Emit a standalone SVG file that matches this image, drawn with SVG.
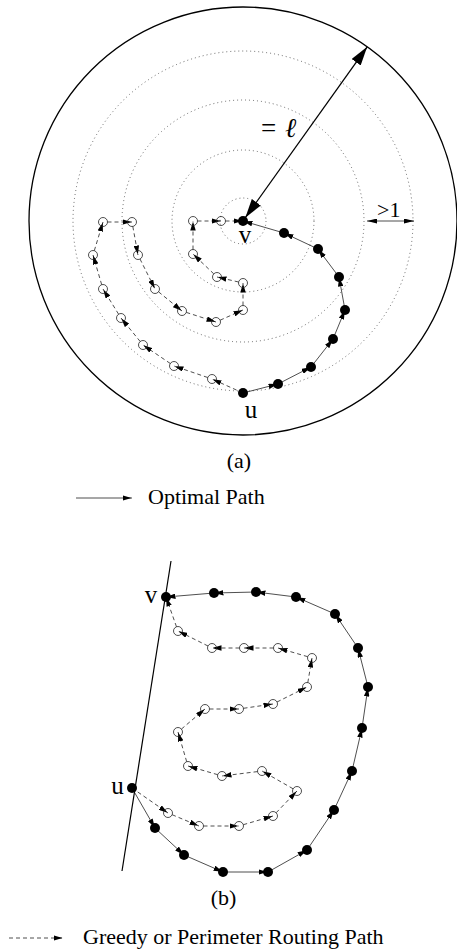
<svg xmlns="http://www.w3.org/2000/svg" width="457" height="952" viewBox="0 0 457 952">
<style>
text{font-family:"Liberation Serif","Times New Roman",serif;fill:#000}
.lbl{font-size:25px;text-anchor:middle}
.cap{font-size:22px}
.ring{fill:none;stroke:#444;stroke-width:0.8;stroke-dasharray:1 3}
.sol{stroke:#222;stroke-width:0.8;fill:none;marker-end:url(#ah)}
.dsh{stroke:#222;stroke-width:0.8;fill:none;stroke-dasharray:4 3;marker-end:url(#ah)}
.fn{fill:#000}
.on{fill:none;stroke:#222;stroke-width:0.8}
</style>
<defs>
<marker id="ah" viewBox="0 0 9 5.5" refX="9.5" refY="2.75" markerWidth="9" markerHeight="5.5" markerUnits="userSpaceOnUse" orient="auto"><path d="M0,0 L9,2.75 L0,5.5 z" fill="#000"/></marker>
<marker id="big" viewBox="0 0 19 11" refX="19" refY="5.5" markerWidth="19" markerHeight="11" markerUnits="userSpaceOnUse" orient="auto-start-reverse"><path d="M0,0 L19,5.5 L0,11 z" fill="#000"/></marker>
<marker id="dim" viewBox="0 0 10 5" refX="10" refY="2.5" markerWidth="10" markerHeight="5" markerUnits="userSpaceOnUse" orient="auto-start-reverse"><path d="M0,0 L10,2.5 L0,5 z" fill="#000"/></marker>
</defs>

<!-- (a) background circles -->
<g id="a-rings">
<circle cx="243" cy="221" r="214" fill="none" stroke="#000" stroke-width="1.3"/>
<circle class="ring" cx="243" cy="221" r="23"/>
<circle class="ring" cx="243" cy="221" r="71"/>
<circle class="ring" cx="243" cy="221" r="121"/>
<circle class="ring" cx="243" cy="221" r="170"/>
</g>

<g id="a-annotations">
<line x1="245.3" y1="217.7" x2="367.2" y2="46.8" stroke="#000" stroke-width="1.3" marker-start="url(#big)" marker-end="url(#big)"/>
<text font-size="27" y="137"><tspan x="261">=</tspan><tspan x="285" font-style="italic">ℓ</tspan></text>
<line x1="367" y1="221" x2="414" y2="221" stroke="#222" stroke-width="0.8" marker-start="url(#dim)" marker-end="url(#dim)"/>
<text font-size="22" x="377" y="217">&gt;1</text>
</g>

<g id="connectors">
<!-- (a) optimal path -->
<line class="sol" x1="243" y1="393" x2="278" y2="384"/>
<line class="sol" x1="278" y1="384" x2="311" y2="367"/>
<line class="sol" x1="311" y1="367" x2="333" y2="339"/>
<line class="sol" x1="333" y1="339" x2="345" y2="310"/>
<line class="sol" x1="345" y1="310" x2="339" y2="277"/>
<line class="sol" x1="339" y1="277" x2="318" y2="249"/>
<line class="sol" x1="318" y1="249" x2="284" y2="233"/>
<line class="sol" x1="284" y1="233" x2="243" y2="221"/>
<!-- (a) greedy / perimeter path -->
<line class="dsh" x1="243" y1="393" x2="212" y2="379"/>
<line class="dsh" x1="207.7" y1="377.5" x2="174" y2="366"/>
<line class="dsh" x1="170.3" y1="363.5" x2="143" y2="345"/>
<line class="dsh" x1="140.2" y1="341.5" x2="121" y2="318"/>
<line class="dsh" x1="118.6" y1="314.2" x2="103" y2="289"/>
<line class="dsh" x1="101.7" y1="284.7" x2="93" y2="255"/>
<line class="dsh" x1="94.3" y1="250.7" x2="103" y2="222"/>
<line class="dsh" x1="107.5" y1="222" x2="132" y2="222"/>
<line class="dsh" x1="132.8" y1="226.4" x2="138" y2="255"/>
<line class="dsh" x1="140" y1="259" x2="155" y2="289"/>
<line class="dsh" x1="158.5" y1="291.8" x2="182" y2="311"/>
<line class="dsh" x1="186.3" y1="312.4" x2="216" y2="322"/>
<line class="dsh" x1="220.1" y1="320.2" x2="243" y2="310"/>
<line class="dsh" x1="243" y1="305.5" x2="243" y2="283"/>
<line class="dsh" x1="238.6" y1="282" x2="217" y2="277"/>
<line class="dsh" x1="213.8" y1="273.9" x2="193" y2="254"/>
<line class="dsh" x1="193" y1="249.5" x2="193" y2="221"/>
<line class="dsh" x1="197.5" y1="221" x2="221" y2="221"/>
<line class="dsh" x1="225.5" y1="221" x2="243" y2="221"/>
<!-- (b) optimal path -->
<line class="sol" x1="132" y1="788" x2="155" y2="828"/>
<line class="sol" x1="155" y1="828" x2="184" y2="855"/>
<line class="sol" x1="184" y1="855" x2="223" y2="872"/>
<line class="sol" x1="223" y1="872" x2="268" y2="872"/>
<line class="sol" x1="268" y1="872" x2="307" y2="850"/>
<line class="sol" x1="307" y1="850" x2="334" y2="810"/>
<line class="sol" x1="334" y1="810" x2="352" y2="771"/>
<line class="sol" x1="352" y1="771" x2="362" y2="728"/>
<line class="sol" x1="362" y1="728" x2="368" y2="687"/>
<line class="sol" x1="368" y1="687" x2="358" y2="648"/>
<line class="sol" x1="358" y1="648" x2="335" y2="614"/>
<line class="sol" x1="335" y1="614" x2="296" y2="597"/>
<line class="sol" x1="296" y1="597" x2="256" y2="592"/>
<line class="sol" x1="256" y1="592" x2="214" y2="593"/>
<line class="sol" x1="214" y1="593" x2="166" y2="597"/>
<!-- (b) greedy / perimeter path -->
<line class="dsh" x1="132" y1="788" x2="168" y2="813"/>
<line class="dsh" x1="172.1" y1="814.7" x2="199" y2="826"/>
<line class="dsh" x1="203.5" y1="826" x2="239" y2="826"/>
<line class="dsh" x1="243.3" y1="824.7" x2="273" y2="816"/>
<line class="dsh" x1="276.1" y1="812.8" x2="297" y2="791"/>
<line class="dsh" x1="293.1" y1="788.8" x2="262" y2="771"/>
<line class="dsh" x1="257.5" y1="771.6" x2="222" y2="776"/>
<line class="dsh" x1="217.7" y1="774.7" x2="188" y2="766"/>
<line class="dsh" x1="186.7" y1="761.7" x2="178" y2="732"/>
<line class="dsh" x1="181.4" y1="729.1" x2="205" y2="709"/>
<line class="dsh" x1="209.5" y1="709" x2="239" y2="709"/>
<line class="dsh" x1="243.5" y1="708.3" x2="273" y2="704"/>
<line class="dsh" x1="277" y1="702" x2="307" y2="687"/>
<line class="dsh" x1="307.8" y1="682.6" x2="312" y2="658"/>
<line class="dsh" x1="307.7" y1="656.7" x2="278" y2="648"/>
<line class="dsh" x1="273.5" y1="648" x2="244" y2="648"/>
<line class="dsh" x1="239.5" y1="648" x2="212" y2="648"/>
<line class="dsh" x1="208" y1="646" x2="178" y2="631"/>
<line class="dsh" x1="176.5" y1="626.8" x2="166" y2="597"/>
</g>

<!-- (a) nodes -->
<g id="a-v"><circle class="fn" cx="243" cy="221" r="5"/><text class="lbl" x="245" y="243">v</text></g>
<g id="a-u"><circle class="fn" cx="243" cy="393" r="5"/><text class="lbl" x="251" y="418">u</text></g>
<g id="a-f1"><circle class="fn" cx="278" cy="384" r="5"/></g>
<g id="a-f2"><circle class="fn" cx="311" cy="367" r="5"/></g>
<g id="a-f3"><circle class="fn" cx="333" cy="339" r="5"/></g>
<g id="a-f4"><circle class="fn" cx="345" cy="310" r="5"/></g>
<g id="a-f5"><circle class="fn" cx="339" cy="277" r="5"/></g>
<g id="a-f6"><circle class="fn" cx="318" cy="249" r="5"/></g>
<g id="a-f7"><circle class="fn" cx="284" cy="233" r="5"/></g>
<g id="a-o1"><circle class="on" cx="212" cy="379" r="4.5"/></g>
<g id="a-o2"><circle class="on" cx="174" cy="366" r="4.5"/></g>
<g id="a-o3"><circle class="on" cx="143" cy="345" r="4.5"/></g>
<g id="a-o4"><circle class="on" cx="121" cy="318" r="4.5"/></g>
<g id="a-o5"><circle class="on" cx="103" cy="289" r="4.5"/></g>
<g id="a-o6"><circle class="on" cx="93" cy="255" r="4.5"/></g>
<g id="a-o7"><circle class="on" cx="103" cy="222" r="4.5"/></g>
<g id="a-o8"><circle class="on" cx="132" cy="222" r="4.5"/></g>
<g id="a-o9"><circle class="on" cx="138" cy="255" r="4.5"/></g>
<g id="a-o10"><circle class="on" cx="155" cy="289" r="4.5"/></g>
<g id="a-o11"><circle class="on" cx="182" cy="311" r="4.5"/></g>
<g id="a-o12"><circle class="on" cx="216" cy="322" r="4.5"/></g>
<g id="a-o13"><circle class="on" cx="243" cy="310" r="4.5"/></g>
<g id="a-o14"><circle class="on" cx="243" cy="283" r="4.5"/></g>
<g id="a-o15"><circle class="on" cx="217" cy="277" r="4.5"/></g>
<g id="a-o16"><circle class="on" cx="193" cy="254" r="4.5"/></g>
<g id="a-o17"><circle class="on" cx="193" cy="221" r="4.5"/></g>
<g id="a-o18"><circle class="on" cx="221" cy="221" r="4.5"/></g>

<text class="cap" x="239" y="468" text-anchor="middle">(a)</text>

<g id="legend-optimal">
<line x1="76" y1="498" x2="132" y2="498" stroke="#222" stroke-width="0.8" marker-end="url(#ah)"/>
<text class="cap" x="148" y="504">Optimal Path</text>
</g>

<!-- (b) -->
<g id="b-boundary"><line x1="171" y1="561" x2="122" y2="871" stroke="#000" stroke-width="1.2"/></g>

<g id="b-v"><circle class="fn" cx="166" cy="597" r="5"/><text class="lbl" x="151" y="603">v</text></g>
<g id="b-u"><circle class="fn" cx="132" cy="788" r="5"/><text class="lbl" x="117.5" y="794">u</text></g>
<g id="b-f1"><circle class="fn" cx="155" cy="828" r="5"/></g>
<g id="b-f2"><circle class="fn" cx="184" cy="855" r="5"/></g>
<g id="b-f3"><circle class="fn" cx="223" cy="872" r="5"/></g>
<g id="b-f4"><circle class="fn" cx="268" cy="872" r="5"/></g>
<g id="b-f5"><circle class="fn" cx="307" cy="850" r="5"/></g>
<g id="b-f6"><circle class="fn" cx="334" cy="810" r="5"/></g>
<g id="b-f7"><circle class="fn" cx="352" cy="771" r="5"/></g>
<g id="b-f8"><circle class="fn" cx="362" cy="728" r="5"/></g>
<g id="b-f9"><circle class="fn" cx="368" cy="687" r="5"/></g>
<g id="b-f10"><circle class="fn" cx="358" cy="648" r="5"/></g>
<g id="b-f11"><circle class="fn" cx="335" cy="614" r="5"/></g>
<g id="b-f12"><circle class="fn" cx="296" cy="597" r="5"/></g>
<g id="b-f13"><circle class="fn" cx="256" cy="592" r="5"/></g>
<g id="b-f14"><circle class="fn" cx="214" cy="593" r="5"/></g>
<g id="b-o1"><circle class="on" cx="168" cy="813" r="4.5"/></g>
<g id="b-o2"><circle class="on" cx="199" cy="826" r="4.5"/></g>
<g id="b-o3"><circle class="on" cx="239" cy="826" r="4.5"/></g>
<g id="b-o4"><circle class="on" cx="273" cy="816" r="4.5"/></g>
<g id="b-o5"><circle class="on" cx="297" cy="791" r="4.5"/></g>
<g id="b-o6"><circle class="on" cx="262" cy="771" r="4.5"/></g>
<g id="b-o7"><circle class="on" cx="222" cy="776" r="4.5"/></g>
<g id="b-o8"><circle class="on" cx="188" cy="766" r="4.5"/></g>
<g id="b-o9"><circle class="on" cx="178" cy="732" r="4.5"/></g>
<g id="b-o10"><circle class="on" cx="205" cy="709" r="4.5"/></g>
<g id="b-o11"><circle class="on" cx="239" cy="709" r="4.5"/></g>
<g id="b-o12"><circle class="on" cx="273" cy="704" r="4.5"/></g>
<g id="b-o13"><circle class="on" cx="307" cy="687" r="4.5"/></g>
<g id="b-o14"><circle class="on" cx="312" cy="658" r="4.5"/></g>
<g id="b-o15"><circle class="on" cx="278" cy="648" r="4.5"/></g>
<g id="b-o16"><circle class="on" cx="244" cy="648" r="4.5"/></g>
<g id="b-o17"><circle class="on" cx="212" cy="648" r="4.5"/></g>
<g id="b-o18"><circle class="on" cx="178" cy="631" r="4.5"/></g>

<text class="cap" x="223.5" y="905" text-anchor="middle">(b)</text>

<g id="legend-greedy">
<line x1="9" y1="938" x2="63" y2="938" stroke="#222" stroke-width="0.8" stroke-dasharray="4 3" marker-end="url(#ah)"/>
<text class="cap" x="83" y="944">Greedy or Perimeter Routing Path</text>
</g>
</svg>
